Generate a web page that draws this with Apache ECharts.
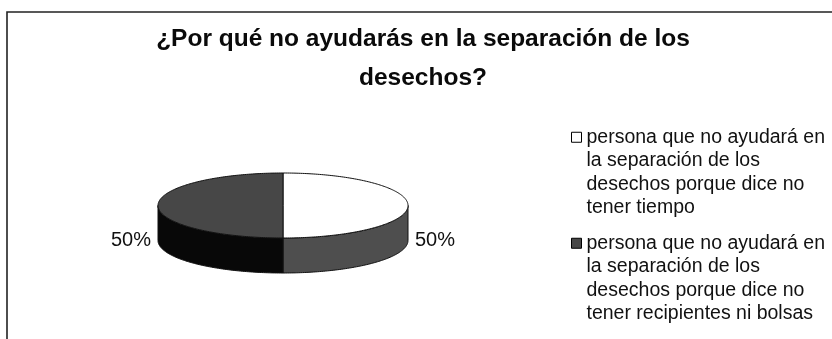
<!DOCTYPE html>
<html>
<head>
<meta charset="utf-8">
<script src="https://cdn.jsdelivr.net/npm/echarts@6/dist/echarts.min.js"></script>
<style>
  html, body { margin: 0; padding: 0; background: #fff; }
  #chart { width: 832px; height: 339px; }
</style>
</head>
<body>
<div id="chart"></div>
<script>
// Survey answers: why the person will not help separate the waste
const titleText = '¿Por qué no ayudarás en la separación de los\ndesechos?';
const categories = [
  'persona que no ayudará en la separación de los desechos porque dice no tener tiempo',
  'persona que no ayudará en la separación de los desechos porque dice no tener recipientes ni bolsas'
];
const legendLines = [
  ['persona que no ayudará en', 'la separación de los', 'desechos porque dice no', 'tener tiempo'],
  ['persona que no ayudará en', 'la separación de los', 'desechos porque dice no', 'tener recipientes ni bolsas']
];
const values = [50, 50];

// slice appearance: top face and the darker rim below it
const topColors = ['#ffffff', '#474747'];
const sideColors = ['#4e4e4e', '#080808'];

const FONT = '"Liberation Sans", Arial, Helvetica, sans-serif';
const LEGEND_LINE = 23.5;

// geometry of the tilted pie (pixels)
const PIE = { cx: 283, cy: 205.5, rx: 125, ry: 32.5, depth: 35 };

const total = values.reduce((a, b) => a + b, 0);
const startAngles = [];
{
  let acc = 0;
  values.forEach(v => { startAngles.push(acc); acc += v; });
}
const toRad = d => d * Math.PI / 180;
// Angle in degrees: 0 at 12 o'clock, growing clockwise
const ptAt = (deg, dy) => {
  const t = toRad(deg - 90);
  return [PIE.cx + PIE.rx * Math.cos(t), PIE.cy + PIE.ry * Math.sin(t) + (dy || 0)];
};
const arcPts = (a0, a1, dy) => {
  const pts = [];
  const n = Math.max(2, Math.ceil(Math.abs(a1 - a0)));
  for (let i = 0; i <= n; i++) pts.push(ptAt(a0 + (a1 - a0) * i / n, dy));
  return pts;
};

function makeRender(idx) {
  return function (params, api) {
    const v = api.value(0);
    const a0 = startAngles[idx] / total * 360;
    const a1 = a0 + v / total * 360;
    const children = [];
    const stroke = { stroke: '#111', lineWidth: 1, lineJoin: 'round' };

    // visible rim: front half of the ellipse, 90°..270° in this angle system
    const s0 = Math.max(a0, 90), s1 = Math.min(a1, 270);
    if (s1 > s0) {
      const pts = arcPts(s0, s1, 0).concat(arcPts(s1, s0, PIE.depth));
      children.push({
        type: 'polygon',
        shape: { points: pts },
        style: Object.assign({ fill: sideColors[idx] }, stroke)
      });
    }
    // top face
    const topPts = [[PIE.cx, PIE.cy]].concat(arcPts(a0, a1, 0));
    children.push({
      type: 'polygon',
      shape: { points: topPts },
      style: Object.assign({ fill: topColors[idx] }, stroke)
    });
    // percentage label beside the slice
    const mid = (a0 + a1) / 2;
    const t = toRad(mid - 90);
    const right = Math.cos(t) >= 0;
    children.push({
      type: 'text',
      x: PIE.cx + (PIE.rx + 7) * Math.cos(t),
      y: PIE.cy + PIE.ry * Math.sin(t) + PIE.depth,
      style: {
        text: Math.round(v / total * 100) + '%',
        fontFamily: FONT,
        fontSize: 20,
        fill: '#111',
        align: right ? 'left' : 'right',
        verticalAlign: 'middle'
      }
    });
    return { type: 'group', children };
  };
}

// Legend marker: a small square beside the first text line; the empty
// move-to points stretch the marker box to the full height of the text block.
const blockH = 4 * LEGEND_LINE;
const sqTop = LEGEND_LINE / 2 - 5;
const legendIcon = 'path://M0,0Z M0,' + sqTop + 'H10V' + (sqTop + 10) + 'H0Z M10,' + blockH + 'Z';

const chart = echarts.init(document.getElementById('chart'), null, { renderer: 'canvas' });
chart.setOption({
  animation: false,
  backgroundColor: '#ffffff',
  title: {
    text: titleText,
    left: 423,
    top: 20,
    textAlign: 'center',
    padding: 0,
    textStyle: {
      fontFamily: FONT,
      fontSize: 24.5,
      fontWeight: 'bold',
      color: '#0a0a0a',
      lineHeight: 39
    }
  },
  legend: {
    orient: 'vertical',
    left: 571,
    top: 125,
    padding: 0,
    itemWidth: 10,
    itemHeight: blockH,
    itemGap: 11,
    icon: legendIcon,
    selectedMode: false,
    data: categories,
    itemStyle: { borderColor: '#000', borderWidth: 1 },
    formatter: name => legendLines[categories.indexOf(name)].join('\n'),
    textStyle: {
      fontFamily: FONT,
      fontSize: 19.5,
      lineHeight: LEGEND_LINE,
      color: '#111'
    }
  },
  graphic: [{
    type: 'rect',
    shape: { x: 7, y: 12, width: 900, height: 400 },
    style: { fill: 'none', stroke: '#222', lineWidth: 1.6 },
    silent: true
  }],
  series: categories.map((name, i) => ({
    type: 'custom',
    name: name,
    coordinateSystem: 'none',
    itemStyle: { color: topColors[i] },
    renderItem: makeRender(i),
    data: [[values[i]]]
  }))
});
</script>
</body>
</html>
